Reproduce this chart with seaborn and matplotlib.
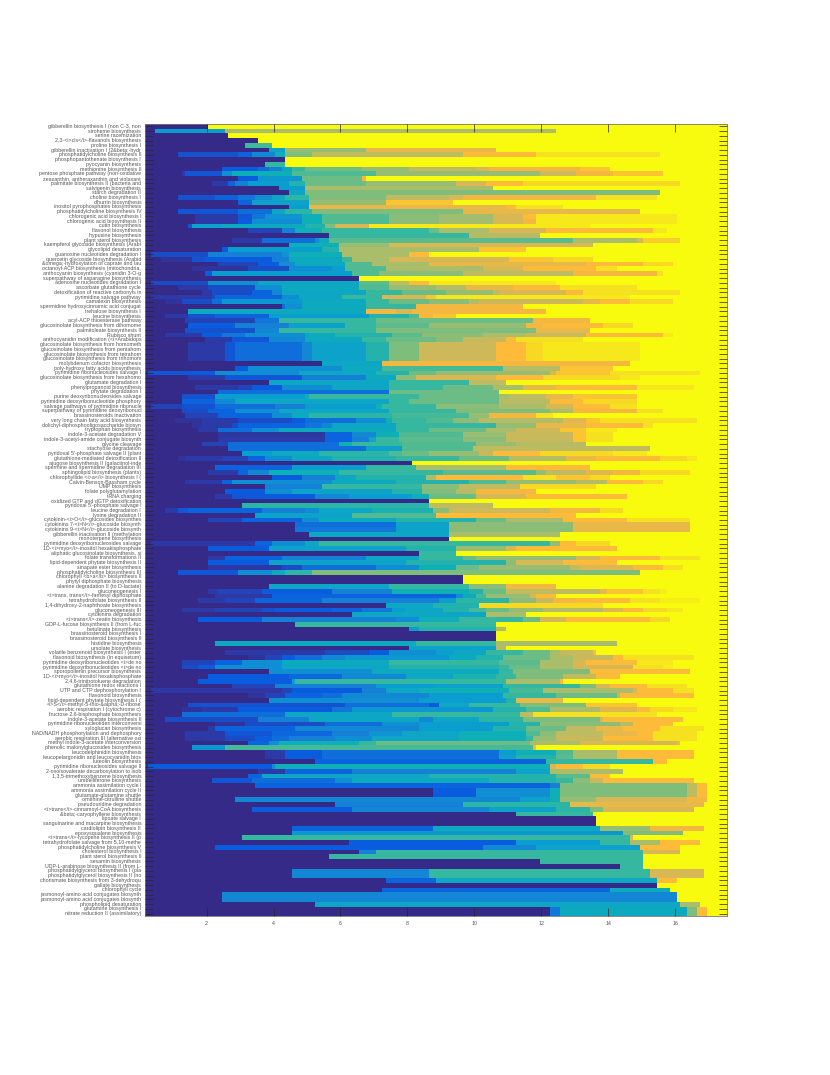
import numpy as np
import pandas as pd
import matplotlib.pyplot as plt
import seaborn as sns
from matplotlib.colors import LinearSegmentedColormap

# Pathway names, top to bottom, cut off at 40 characters as in the source
pathways = [
    "gibberellin biosynthesis I (non C-3, non", "siroheme biosynthesis", "serine racemization",
    "2,3-<i>cis</i>-flavanols biosynthesis", "proline biosynthesis I", "gibberellin inactivation I (2&beta;-hydr",
    "phosphatidylcholine biosynthesis II", "phosphopantothenate biosynthesis I", "pyocyanin biosynthesis",
    "methionine biosynthesis II", "pentose phosphate pathway (non-oxidative", "zeaxanthin, antheraxanthin and violaxant",
    "palmitate biosynthesis II (bacteria and", "salvigenin biosynthesis", "starch degradation II",
    "choline biosynthesis I", "dhurrin biosynthesis", "inositol pyrophosphates biosynthesis",
    "phosphatidylcholine biosynthesis IV", "chlorogenic acid biosynthesis I", "chlorogenic acid biosynthesis II",
    "cutin biosynthesis", "flavonol biosynthesis", "hypusine biosynthesis",
    "plant sterol biosynthesis", "kaempferol glycoside biosynthesis (Arabi", "glycolipid desaturation",
    "guanosine nucleotides degradation I", "quercetin glycoside biosynthesis (Arabid", "&omega;-hydroxylation of caprate and lau",
    "octanoyl-ACP biosynthesis (mitochondria,", "anthocyanin biosynthesis (cyanidin 3-O-g", "superpathway of asparagine biosynthesis",
    "adenosine nucleotides degradation I", "ascorbate glutathione cycle", "detoxification of reactive carbonyls in",
    "pyrimidine salvage pathway", "camalexin biosynthesis", "spermidine hydroxycinnamic acid conjugat",
    "trehalose biosynthesis I", "leucine biosynthesis", "acyl-ACP thioesterase pathway",
    "glucosinolate biosynthesis from dihomome", "palmitoleate biosynthesis II", "Rubisco shunt",
    "anthocyanidin modification (<i>Arabidops", "glucosinolate biosynthesis from homometh", "glucosinolate biosynthesis from pentahom",
    "glucosinolate biosynthesis from tetrahom", "glucosinolate biosynthesis from trihomom", "molybdenum cofactor biosynthesis",
    "poly-hydroxy fatty acids biosynthesis", "pyrimidine ribonucleosides salvage I", "glucosinolate biosynthesis from hexahomo",
    "glutamate degradation I", "phenylpropanoid biosynthesis", "phytate degradation I",
    "purine deoxyribonucleosides salvage", "pyrimidine deoxyribonucleotide phosphory", "salvage pathways of pyrimidine ribonucle",
    "superpathway of pyrimidine deoxyribonucl", "brassinosteroids inactivation", "very long chain fatty acid biosynthesis",
    "dolichyl-diphosphooligosaccharide biosyn", "tryptophan biosynthesis", "indole-3-acetate degradation V",
    "indole-3-acetyl-amide conjugate biosynth", "glycine cleavage", "stachyose degradation",
    "pyridoxal 5'-phosphate salvage II (plant", "glutathione-mediated detoxification II", "ajugose biosynthesis II (galactinol-inde",
    "spermine and spermidine degradation III", "sphingolipid biosynthesis (plants)", "chlorophyllide <i>a</i> biosynthesis I (",
    "Calvin-Benson-Bassham cycle", "UMP biosynthesis", "folate polyglutamylation",
    "tRNA charging", "oxidized GTP and dGTP detoxification", "pyridoxal 5'-phosphate salvage I",
    "leucine degradation I", "lysine degradation II", "cytokinin-<i>O</i>-glucosides biosynthes",
    "cytokinins 7-<i>N</i>-glucoside biosynth", "cytokinins 9-<i>N</i>-glucoside biosynth", "gibberellin inactivation II (methylation",
    "monoterpene biosynthesis", "pyrimidine deoxyribonucleosides salvage", "1D-<i>myo</i>-inositol hexakisphosphate",
    "aliphatic glucosinolate biosynthesis, si", "folate transformations II", "lipid-dependent phytate biosynthesis II",
    "sinapate ester biosynthesis", "phosphatidylcholine biosynthesis III", "chlorophyll <b>a</b> biosynthesis II",
    "phytyl diphosphate biosynthesis", "alanine degradation II (to D-lactate)", "gluconeogenesis I",
    "<i>trans, trans</i>-farnesyl diphosphate", "tetrahydrofolate biosynthesis II", "1,4-dihydroxy-2-naphthoate biosynthesis",
    "gluconeogenesis III", "cytokinins degradation", "<i>trans</i>-zeatin biosynthesis",
    "GDP-L-fucose biosynthesis II (from L-fuc", "betulinate biosynthesis", "brassinosteroid biosynthesis I",
    "brassinosteroid biosynthesis II", "histidine biosynthesis", "ursolate biosynthesis",
    "volatile benzenoid biosynthesis I (ester", "flavonoid biosynthesis (in equisetum)", "pyrimidine deoxyribonucleotides <i>de no",
    "pyrimidine deoxyribonucleotides <i>de no", "sporopollenin precursor biosynthesis", "1D-<i>myo</i>-inositol hexakisphosphate",
    "2,4,6-trinitrotoluene degradation", "glutathione redox reactions I", "UTP and CTP dephosphorylation I",
    "flavonoid biosynthesis", "lipid-dependent phytate biosynthesis I (", "<i>S</i>-methyl-5-thio-&alpha;-D-ribose",
    "aerobic respiration I (cytochrome c)", "fructose 2,6-bisphosphate biosynthesis", "indole-3-acetate biosynthesis II",
    "pyrimidine ribonucleotides interconversi", "xyloglucan biosynthesis", "NAD/NADH phosphorylation and dephosphory",
    "aerobic respiration III (alternative oxi", "methyl indole-3-acetate interconversion", "phenolic malonylglucosides biosynthesis",
    "leucodelphinidin biosynthesis", "leucopelargonidin and leucocyanidin bios", "luteolin biosynthesis",
    "pyrimidine ribonucleosides salvage II", "2-oxoisovalerate decarboxylation to isob", "1,3,5-trimethoxybenzene biosynthesis",
    "umbelliferone biosynthesis", "ammonia assimilation cycle I", "ammonia assimilation cycle II",
    "glutamate-glutamine shuttle", "ornithine-citrulline shuttle", "pseudouridine degradation",
    "<i>trans</i>-cinnamoyl-CoA biosynthesis", "&beta;-caryophyllene biosynthesis", "lipoate salvage I",
    "sanguinarine and macarpine biosynthesis", "cardiolipin biosynthesis II", "epoxysqualene biosynthesis",
    "<i>trans</i>-lycopene biosynthesis II (p", "tetrahydrofolate salvage from 5,10-methe", "phosphatidylcholine biosynthesis V",
    "cholesterol biosynthesis I", "plant sterol biosynthesis II", "sesamin biosynthesis",
    "UDP-L-arabinose biosynthesis II (from L-", "phosphatidylglycerol biosynthesis I (pla", "phosphatidylglycerol biosynthesis II (no",
    "chorismate biosynthesis from 3-dehydroqu", "gallate biosynthesis", "chlorophyll cycle",
    "jasmonoyl-amino acid conjugates biosynth", "jasmonoyl-amino acid conjugates biosynth", "phospholipid desaturation",
    "glutamine biosynthesis I", "nitrate reduction II (assimilatory)",
]

# x value where each row changes colour and the level it changes to (rows start at level 0)
row_steps = [
    [(2.1,1)],
    [(0.5,.35),(2.6,.75),(12.5,1)],
    [(2.7,1)],
    [(3.6,1)],
    [(3.2,.57),(4.0,1)],
    [(3.9,.38),(4.4,.72),(6.8,.88),(10.7,1)],
    [(1.2,.13),(3.0,.17),(3.4,.28),(4.1,.45),(4.4,.68),(5.2,.8),(9.7,.92),(11.9,.96),(15.6,1)],
    [(4.4,1)],
    [(3.8,.55),(4.4,1)],
    [(2.5,.15),(3.6,.2),(3.9,.25),(4.3,.4),(4.6,.55),(5.0,.66),(6.7,.72),(8.1,.8),(10.1,.85),(10.5,.9),(13.2,.93),(14.1,1)],
    [(1.3,.08),(1.4,.14),(2.5,.3),(2.8,.45),(4.6,.6),(7.1,.72),(12.0,.83),(13.1,.9),(14.2,.93),(15.7,1)],
    [(3.0,.15),(3.6,.33),(4.9,.65),(6.7,.9),(6.8,1)],
    [(2.2,.08),(2.7,.17),(2.9,.25),(3.3,.35),(4.5,.5),(5.0,.65),(6.8,.72),(9.5,.85),(10.4,.92),(11.5,.95),(16.2,1)],
    [(4.2,.35),(5.0,.75),(10.6,1)],
    [(4.5,.4),(5.0,.68),(15.6,1)],
    [(1.2,.13),(2.3,.17),(3.0,.22),(3.5,.3),(4.0,.4),(4.4,.53),(5.1,.68),(7.4,.8),(9.3,.85),(9.7,.9),(13.7,.96),(15.5,1)],
    [(3.0,.17),(3.4,.38),(5.1,.72),(7.4,.93),(9.4,1)],
    [(4.5,.35),(5.1,.88),(11.0,.92),(11.3,.96),(12.7,1)],
    [(1.2,.14),(3.0,.2),(4.0,.4),(4.4,.53),(5.2,.68),(9.7,.88),(15.0,1)],
    [(1.7,.08),(3.0,.14),(3.4,.22),(3.8,.32),(4.9,.45),(5.5,.6),(7.5,.7),(9.0,.74),(10.6,.85),(11.5,.92),(11.9,.97),(16.1,1)],
    [(1.7,.08),(3.0,.15),(3.4,.3),(4.9,.45),(5.5,.6),(7.5,.7),(9.0,.74),(10.6,.85),(11.5,.9),(11.9,.97),(16.1,1)],
    [(1.5,.14),(1.6,.38),(2.5,.42),(5.0,.5),(5.6,.68),(5.9,.85),(6.9,.97),(13.5,1)],
    [(3.3,.1),(4.3,.25),(4.7,.45),(5.5,.55),(8.7,.65),(9.0,.75),(10.5,.85),(12.2,.92),(15.4,.97),(15.8,1)],
    [(5.7,.55),(9.9,.78),(12.0,1)],
    [(2.8,.08),(3.7,.2),(5.3,.3),(5.4,.42),(5.7,.62),(13.0,.75),(14.9,.85),(15.1,.94),(16.2,1)],
    [(4.5,.45),(6.0,.72),(7.5,.85),(13.6,1)],
    [(2.5,.15),(2.7,.35),(5.5,.5),(6.0,.75),(10.2,.93),(11.6,1)],
    [(0.4,.12),(2.1,.25),(4.3,.32),(4.5,.45),(6.1,.75),(8.1,.92),(8.7,1)],
    [(0.7,.05),(1.6,.13),(2.0,.15),(4.0,.25),(4.5,.42),(6.1,.55),(6.4,.75),(7.5,.85),(11.1,.93),(12.4,.95),(13.6,1)],
    [(2.4,.1),(3.6,.15),(4.2,.3),(4.7,.42),(6.2,.6),(7.0,.75),(8.7,.88),(13.4,.92),(15.1,.95),(16.0,1)],
    [(1.6,.05),(3.3,.12),(4.5,.3),(5.8,.35),(6.2,.6),(7.4,.75),(10.3,.85),(11.5,.92),(13.7,.96),(14.3,1)],
    [(2.0,.15),(2.2,.35),(6.4,.6),(7.2,.7),(9.7,.8),(13.0,.9),(15.5,.96),(15.7,1)],
    [(6.6,1)],
    [(0.4,.12),(2.1,.3),(3.6,.4),(6.6,.62),(7.5,.8),(8.1,.92),(8.7,.97),(12.5,1)],
    [(1.2,.08),(2.1,.12),(3.5,.3),(4.3,.42),(6.6,.6),(7.5,.72),(8.9,.78),(9.8,.88),(11.2,.92),(12.6,.96),(14.9,1)],
    [(1.9,.08),(2.2,.12),(3.4,.17),(4.0,.28),(4.3,.4),(6.8,.55),(7.9,.65),(9.2,.72),(10.6,.8),(10.8,.85),(12.8,.92),(13.3,.96),(16.2,1)],
    [(0.4,.08),(2.2,.12),(2.3,.17),(4.3,.3),(4.8,.4),(6.1,.55),(7.3,.85),(8.6,.93),(8.9,.97),(14.7,1)],
    [(0.8,.05),(1.3,.12),(2.2,.2),(2.5,.33),(4.9,.42),(6.8,.55),(7.5,.65),(8.7,.7),(9.9,.78),(10.2,.83),(13.3,.88),(13.8,.92),(14.7,.95),(16.0,1)],
    [(4.3,.2),(4.4,.3),(4.9,.42),(6.8,.55),(8.3,.9),(11.5,1)],
    [(1.5,.42),(6.8,.9),(7.7,.85),(8.2,.9),(12.2,1)],
    [(0.8,.08),(1.5,.13),(2.3,.17),(3.9,.35),(6.9,.5),(8.1,.6),(8.4,.9),(8.8,.93),(9.5,1)],
    [(1.4,.1),(3.5,.22),(4.2,.55),(7.1,.65),(11.8,.9),(13.5,1)],
    [(1.5,.15),(2.9,.25),(4.5,.38),(6.2,.55),(7.1,.62),(8.7,.72),(11.6,.9),(12.1,.92),(13.9,.95),(14.8,1)],
    [(1.4,.13),(3.5,.28),(4.2,.55),(7.1,.68),(11.9,.88),(13.5,1)],
    [(0.8,.08),(1.9,.15),(2.5,.22),(3.2,.3),(5.0,.42),(5.9,.5),(7.6,.62),(8.5,.7),(10.3,.75),(11.6,.82),(13.4,.92),(15.7,.97),(16.0,1)],
    [(2.0,.08),(2.8,.14),(3.9,.28),(5.0,.42),(6.7,.55),(7.4,.65),(8.9,.7),(9.7,.82),(11.0,.92),(11.3,.96),(13.3,1)],
    [(1.5,.08),(2.6,.14),(2.9,.2),(4.9,.28),(5.2,.38),(6.8,.5),(7.5,.68),(8.4,.83),(10.7,.92),(11.6,.95),(12.1,.97),(15.0,1)],
    [(1.5,.08),(2.6,.14),(2.9,.2),(4.9,.28),(5.2,.38),(6.8,.5),(7.5,.68),(8.4,.83),(10.7,.92),(11.6,.95),(12.1,.97),(15.0,1)],
    [(1.5,.08),(2.6,.14),(2.9,.2),(4.9,.28),(5.2,.38),(6.8,.5),(7.5,.68),(8.4,.83),(10.7,.92),(11.6,.95),(12.1,.97),(15.0,1)],
    [(1.5,.08),(2.6,.14),(2.9,.2),(4.9,.28),(5.2,.38),(6.8,.5),(7.5,.68),(8.4,.83),(10.7,.92),(11.6,.95),(12.1,.97),(15.0,1)],
    [(5.5,.4),(7.3,.9),(14.7,1)],
    [(2.9,.15),(3.3,.3),(6.1,.42),(7.3,.58),(10.9,.78),(12.6,.93),(14.2,1)],
    [(0.3,.14),(1.6,.15),(2.3,.3),(4.8,.4),(7.1,.5),(8.1,.65),(8.9,.72),(12.3,.85),(12.5,.93),(14.1,.96),(16.8,1)],
    [(1.5,.08),(2.6,.14),(4.9,.25),(6.8,.42),(7.7,.7),(8.3,.85),(10.7,.92),(12.1,.95),(14.4,.97),(15.0,1)],
    [(3.9,.4),(7.5,.55),(9.9,.8),(11.0,1)],
    [(1.7,.08),(3.0,.1),(3.4,.15),(4.3,.3),(5.8,.4),(7.5,.55),(9.1,.65),(10.6,.75),(11.5,.88),(12.5,.92),(14.9,.97),(16.6,1)],
    [(2.4,.2),(7.5,.65),(10.8,1)],
    [(1.3,.13),(2.3,.35),(5.0,.45),(5.1,.55),(8.4,.65),(10.8,.75),(11.1,.8),(12.2,.88),(13.0,.93),(14.9,1)],
    [(1.3,.17),(2.3,.28),(2.9,.4),(7.5,.55),(8.1,.65),(10.8,.78),(12.3,.92),(13.3,.95),(14.9,1)],
    [(0.4,.1),(1.3,.13),(2.3,.2),(4.1,.25),(5.0,.35),(7.1,.45),(7.3,.55),(8.9,.7),(10.8,.75),(12.2,.85),(13.0,.92),(14.1,.96),(14.9,1)],
    [(1.3,.12),(2.1,.17),(2.9,.3),(4.2,.4),(7.5,.55),(9.5,.68),(12.3,.75),(13.0,.9),(14.9,.96),(15.7,1)],
    [(1.4,.1),(2.4,.17),(4.0,.3),(4.6,.42),(5.1,.52),(7.6,.58),(9.9,.72),(10.5,.9),(11.9,.96),(12.4,1)],
    [(1.1,.05),(1.9,.08),(3.0,.12),(4.6,.15),(5.0,.2),(6.5,.3),(7.4,.45),(7.6,.55),(8.6,.6),(9.4,.7),(10.2,.78),(12.7,.87),(13.4,.93),(13.8,.96),(16.7,1)],
    [(1.6,.05),(1.9,.08),(2.8,.12),(3.0,.17),(5.0,.22),(5.5,.28),(5.8,.4),(7.7,.55),(10.7,.72),(11.9,.88),(13.4,.92),(15.1,.96),(15.4,1)],
    [(1.8,.08),(2.4,.2),(3.4,.3),(4.2,.42),(7.7,.55),(8.7,.65),(10.4,.75),(11.3,.83),(12.6,.93),(13.4,.97),(14.3,1)],
    [(2.4,.06),(5.6,.17),(6.4,.28),(7.1,.45),(7.8,.6),(9.7,.72),(11.0,.82),(13.0,.93),(13.4,.96),(14.2,1)],
    [(2.4,.08),(5.6,.17),(6.4,.25),(6.9,.4),(7.1,.55),(7.8,.62),(9.7,.7),(11.0,.82),(13.0,.93),(13.4,.96),(14.2,1)],
    [(1.9,.1),(2.7,.2),(6.0,.45),(6.4,.55),(7.9,.6),(10.1,.72),(11.3,.78),(13.4,1)],
    [(2.7,.2),(6.8,.38),(7.9,.6),(10.0,.8),(15.3,1)],
    [(3.1,.35),(4.0,.42),(5.4,.52),(7.5,.6),(7.9,.65),(8.7,.72),(10.2,.82),(10.6,.92),(12.0,.95),(14.2,.97),(15.2,1)],
    [(1.2,.05),(1.4,.08),(2.5,.1),(3.3,.17),(3.8,.3),(4.6,.4),(5.8,.5),(7.7,.55),(9.6,.65),(11.1,.78),(12.8,.88),(13.7,.92),(15.6,.95),(16.4,.97),(16.7,1)],
    [(8.2,1)],
    [(2.3,.17),(4.6,.35),(6.8,.55),(8.3,.75),(11.0,.92),(13.5,1)],
    [(2.1,.08),(3.0,.17),(3.3,.28),(3.9,.45),(6.0,.55),(9.1,.62),(11.9,.72),(12.2,.8),(13.4,.87),(14.2,.9),(15.0,.95),(16.5,1)],
    [(4.0,.15),(4.9,.25),(5.9,.4),(6.5,.5),(8.6,.75),(8.9,.92),(11.5,.96),(12.5,.93),(13.5,.95),(14.1,1)],
    [(1.4,.08),(2.5,.17),(2.8,.3),(5.8,.42),(7.7,.5),(9.9,.6),(11.0,.72),(13.1,.78),(14.0,.92),(15.1,.95),(15.7,1)],
    [(3.8,.25),(5.5,.55),(8.5,.7),(9.6,.8),(11.4,.95),(13.7,1)],
    [(2.6,.15),(3.8,.3),(4.6,.38),(7.6,.5),(8.5,.68),(9.5,.78),(10.1,.9),(11.9,1)],
    [(2.3,.08),(2.8,.14),(3.8,.15),(5.3,.28),(6.3,.35),(8.2,.45),(8.7,.65),(10.1,.85),(11.6,.92),(14.6,1)],
    [(8.7,1)],
    [(3.1,.52),(8.7,.8),(10.6,1)],
    [(0.8,.08),(1.2,.14),(1.5,.17),(3.7,.25),(5.0,.3),(5.4,.4),(7.0,.48),(8.8,.7),(9.3,.83),(12.3,.9),(13.8,.95),(14.5,1)],
    [(3.5,.38),(6.4,.6),(8.9,.92),(13.1,1)],
    [(2.1,.1),(3.1,.17),(4.9,.3),(5.4,.42),(7.7,.5),(10.1,.65),(11.0,.75),(12.7,.92),(14.6,.96),(16.5,1)],
    [(4.7,.2),(7.7,.38),(9.3,.7),(13.0,.88),(16.5,1)],
    [(4.7,.22),(7.7,.38),(9.3,.7),(13.0,.88),(16.5,1)],
    [(5.1,.4),(9.3,.75),(12.6,1)],
    [(9.3,1)],
    [(0.4,.07),(3.5,.17),(4.0,.3),(5.0,.4),(5.4,.55),(12.3,.72),(12.6,.92),(13.1,.95),(14.1,1)],
    [(2.1,.15),(3.9,.38),(8.0,.5),(9.5,.72),(11.0,.85),(11.3,.92),(14.3,1)],
    [(8.4,.55),(9.5,1)],
    [(2.1,.08),(2.6,.17),(4.3,.25),(6.8,.4),(8.4,.55),(9.7,.65),(10.1,.72),(13.1,.85),(13.8,.92),(15.6,.96),(16.8,1)],
    [(2.1,.15),(3.9,.38),(8.0,.5),(11.0,.7),(11.3,.85),(12.7,.92),(14.3,1)],
    [(2.1,.07),(4.3,.12),(4.9,.2),(7.1,.3),(8.4,.45),(9.5,.65),(10.2,.72),(12.9,.8),(13.2,.86),(14.8,.92),(15.7,.96),(16.3,1)],
    [(1.2,.14),(3.0,.3),(4.0,.42),(4.4,.53),(5.2,.68),(15.0,1)],
    [(9.7,1)],
    [(9.7,1)],
    [(3.9,.4),(7.5,.55),(9.9,.7),(11.0,.9),(12.5,1)],
    [(2.1,.08),(2.4,.1),(3.7,.15),(4.1,.15),(5.8,.25),(7.6,.45),(9.9,.5),(10.3,.65),(11.0,.8),(13.8,.88),(14.0,.93),(15.1,.96),(15.6,.98),(15.8,1)],
    [(2.3,.08),(4.0,.17),(8.4,.17),(9.5,.3),(9.7,.42),(10.1,.58),(10.4,.72),(11.7,.85),(11.9,.92),(12.5,1)],
    [(1.8,.08),(2.6,.1),(3.5,.17),(5.5,.25),(8.4,.25),(9.0,.35),(9.5,.52),(11.1,.7),(11.9,.82),(12.4,.9),(13.1,.92),(14.7,.96),(15.6,.98),(16.8,1)],
    [(7.4,.4),(8.8,.5),(10.2,.95),(13.9,1)],
    [(1.3,.08),(2.3,.1),(3.7,.13),(4.1,.15),(5.8,.17),(6.7,.22),(7.6,.35),(8.0,.4),(9.1,.5),(9.9,.58),(10.4,.65),(11.1,.72),(12.1,.78),(13.9,.87),(14.5,.92),(15.1,.95),(15.8,.97),(16.3,1)],
    [(6.4,.4),(10.4,.75),(11.6,1)],
    [(1.8,.15),(3.7,.25),(7.7,.3),(8.4,.45),(9.6,.55),(11.5,.65),(12.0,.85),(12.8,.92),(15.3,.95),(15.9,1)],
    [(4.7,.55),(10.7,1)],
    [(8.1,.35),(8.4,.5),(10.7,.78),(11.0,1)],
    [(10.7,1)],
    [(10.7,1)],
    [(2.3,.42),(8.3,.55),(10.7,.75),(14.3,1)],
    [(8.1,.38),(10.7,.78),(11.0,1)],
    [(2.6,.08),(5.6,.12),(6.9,.15),(7.5,.3),(8.9,.37),(9.4,.4),(10.4,.55),(11.5,.65),(12.3,.75),(12.6,.82),(13.6,.92),(13.7,1)],
    [(3.3,.05),(3.8,.1),(4.3,.15),(4.7,.2),(5.5,.28),(6.2,.33),(9.3,.42),(10.1,.5),(10.9,.65),(12.3,.75),(13.0,.82),(14.2,.92),(14.5,.96),(16.6,1)],
    [(1.3,.1),(2.3,.17),(3.1,.3),(4.3,.42),(7.5,.55),(10.8,.62),(12.0,.75),(13.0,.85),(13.4,.92),(14.9,.97),(16.0,1)],
    [(1.3,.12),(1.8,.15),(2.3,.3),(4.3,.4),(7.5,.5),(10.8,.55),(11.1,.65),(12.0,.75),(13.0,.85),(14.8,.96),(15.7,.98),(16.0,1)],
    [(3.9,.3),(7.0,.42),(10.8,.55),(11.2,.68),(13.5,.92),(16.5,1)],
    [(2.1,.15),(4.5,.18),(6.1,.28),(8.0,.4),(9.4,.48),(10.7,.55),(11.3,.68),(12.7,.8),(13.7,.92),(14.4,1)],
    [(1.8,.15),(4.6,.35),(4.7,.55),(11.0,.75),(12.6,.92),(12.7,1)],
    [(2.8,.1),(4.1,.25),(7.1,.35),(8.9,.38),(10.9,.55),(13.2,.68),(13.7,.85),(14.1,.92),(15.2,.96),(16.4,1)],
    [(0.4,.07),(4.3,.1),(4.6,.15),(6.7,.25),(7.4,.4),(8.4,.45),(11.1,.58),(12.1,.75),(14.8,.85),(14.9,.92),(16.0,.96),(16.6,1)],
    [(3.3,.05),(3.8,.1),(4.4,.17),(5.5,.2),(6.1,.28),(8.7,.35),(10.9,.55),(12.5,.65),(14.3,.8),(14.4,.92),(16.6,1)],
    [(3.9,.3),(8.4,.35),(11.0,.5),(11.3,.88),(12.7,1)],
    [(1.5,.13),(6.2,.2),(8.7,.15),(9.0,.4),(9.9,.55),(11.4,.68),(13.4,.93),(14.9,1)],
    [(1.3,.05),(1.9,.08),(3.0,.15),(5.8,.22),(6.4,.33),(10.6,.5),(11.6,.6),(12.3,.75),(13.8,.87),(14.9,.92),(15.3,.95),(16.0,.97),(16.7,1)],
    [(1.3,.2),(4.4,.4),(7.6,.55),(11.4,.8),(11.8,.96),(15.5,1)],
    [(0.8,.12),(3.6,.25),(5.1,.4),(8.4,.28),(8.8,.4),(10.2,.52),(11.5,.68),(13.8,.85),(13.9,.92),(16.3,1)],
    [(2.3,.05),(3.2,.12),(5.6,.2),(7.3,.3),(8.4,.35),(11.1,.5),(12.0,.7),(14.4,.78),(14.8,.92),(16.0,1)],
    [(2.1,.08),(2.3,.17),(4.7,.28),(8.4,.35),(10.6,.5),(11.6,.65),(12.8,.8),(13.7,.88),(14.5,.92),(15.6,.96),(16.9,1)],
    [(1.4,.08),(2.6,.14),(4.0,.18),(5.8,.25),(6.9,.32),(7.9,.4),(9.6,.45),(11.6,.6),(12.0,.7),(12.5,.8),(13.9,.88),(14.9,.92),(15.4,.96),(16.7,1)],
    [(1.4,.07),(2.0,.08),(2.6,.12),(3.5,.16),(4.0,.2),(4.5,.25),(5.9,.3),(7.0,.4),(9.6,.45),(11.6,.55),(11.8,.72),(12.5,.82),(13.9,.92),(15.4,.96),(16.7,1)],
    [(3.3,.17),(3.9,.3),(4.2,.45),(6.6,.55),(7.1,.65),(11.7,.75),(13.2,.85),(16.1,.9),(16.2,1)],
    [(1.6,.33),(2.6,.58),(11.8,.9),(11.9,1)],
    [(3.8,.08),(4.4,.15),(5.5,.2),(10.8,.35),(11.3,.45),(12.5,.6),(13.0,.75),(14.3,.92),(16.6,1)],
    [(3.8,.08),(4.4,.15),(5.5,.2),(10.8,.38),(11.3,.5),(12.5,.62),(13.0,.75),(14.3,.92),(16.6,1)],
    [(5.3,.17),(12.2,.55),(15.4,.92),(15.8,1)],
    [(0.3,.15),(4.0,.3),(4.1,.45),(12.3,.85),(12.5,.92),(13.3,.95),(14.1,1)],
    [(3.6,.08),(4.4,.17),(6.4,.25),(11.3,.38),(12.3,.75),(14.5,1)],
    [(3.3,.17),(3.7,.4),(8.7,.5),(12.5,.62),(13.5,.92),(14.1,1)],
    [(2.2,.14),(3.4,.2),(5.9,.3),(6.4,.42),(10.5,.5),(12.5,.55),(13.0,.7),(13.5,.82),(13.9,.92),(16.6,1)],
    [(3.5,.17),(12.3,.25),(12.6,.68),(16.4,.8),(16.7,.92),(17.0,1)],
    [(8.8,.15),(10.1,.3),(12.3,.45),(12.6,.68),(16.4,.8),(16.7,.92),(17.0,1)],
    [(8.8,.15),(10.1,.3),(12.3,.45),(12.6,.68),(16.4,.8),(16.7,.92),(17.0,1)],
    [(2.9,.28),(11.4,.38),(12.3,.45),(12.6,.72),(13.7,.85),(16.4,.9),(17.0,1)],
    [(5.9,.25),(9.7,.52),(12.9,.88),(16.9,1)],
    [(3.4,.15),(6.4,.27),(10.5,.38),(12.5,.52),(13.5,.68),(13.9,.85),(16.6,1)],
    [(11.3,.55),(13.6,1)],
    [(13.7,1)],
    [(13.7,1)],
    [(4.6,.17),(8.8,.42),(13.8,.72),(15.3,.9),(16.9,1)],
    [(4.6,.33),(14.5,.68),(16.3,1)],
    [(3.1,.55),(14.7,.85),(14.8,1)],
    [(6.3,.15),(11.3,.35),(13.8,.55),(14.7,.75),(15.6,.92),(16.8,1)],
    [(2.3,.15),(10.3,.28),(11.9,.38),(15.0,.92),(16.2,1)],
    [(6.6,.25),(7.1,.55),(15.1,.85),(16.2,1)],
    [(5.7,.55),(15.1,1)],
    [(12.0,.55),(15.1,1)],
    [(14.4,.55),(15.1,1)],
    [(4.6,.27),(8.7,.55),(15.3,.85),(16.9,1)],
    [(4.6,.27),(8.7,.55),(15.3,.85),(16.9,1)],
    [(7.4,.17),(8.9,.4),(15.5,.92),(16.1,1)],
    [(15.5,1)],
    [(7.3,.17),(14.1,.42),(15.9,1)],
    [(2.5,.27),(16.1,1)],
    [(2.5,.27),(16.1,1)],
    [(5.3,.4),(16.2,.75),(16.8,1)],
    [(12.3,.22),(12.6,.42),(16.4,.68),(16.7,.92),(17.0,1)],
    [(12.3,.22),(12.6,.42),(16.4,.68),(16.7,.92),(17.0,1)],
]

# Cell centres along x, in steps of 0.1
x_cells = np.round(np.arange(0.2, 17.55, 0.1), 1)
x_tick_values = [2, 4, 6, 8, 10, 12, 14, 16]

# parula colour map
parula_stops = [0, .08, .15, .25, .35, .45, .55, .65, .75, .85, .92, .96, 1]
parula_colors = ['#352a87', '#2c3aa8', '#0a5ce0', '#1580d6', '#0a9dd0', '#0fafb8', '#35b7a0',
                 '#6bbd85', '#a8bd6c', '#d6b855', '#feb83a', '#f5e01f', '#f9fb0e']

def build_matrix():
    rows = []
    for steps in row_steps:
        row = np.zeros(len(x_cells))
        for x_start, level in steps:
            row[x_cells >= x_start - 0.01] = level
        rows.append(row)
    return pd.DataFrame(rows, index=pathways, columns=x_cells)

def main():
    sns.set_theme(style='white')
    plt.rcParams['font.family'] = ['Liberation Sans', 'DejaVu Sans']

    matrix = build_matrix()
    cmap = LinearSegmentedColormap.from_list('parula', list(zip(parula_stops, parula_colors)))

    fig = plt.figure(figsize=(8.3, 10.75), dpi=100)
    ax = fig.add_axes([144.7 / 830, 1 - 916 / 1075, (727 - 144.7) / 830, (916 - 124) / 1075])
    sns.heatmap(matrix, ax=ax, cmap=cmap, vmin=0, vmax=1, cbar=False,
                xticklabels=False, yticklabels=True)

    # the axis runs from 0.15 to 17.55, one cell per 0.1
    ax.set_xticks([(v - 0.15) * 10 for v in x_tick_values])
    ax.set_xticklabels([str(v) for v in x_tick_values], rotation=0)
    ax.set_axisbelow(False)
    ax.tick_params(axis='x', which='both', direction='in', top=True, bottom=True, length=6,
                   width=0.5, color='#262626', labelsize=3.8, labelcolor='#555555', pad=3.5)
    ax.tick_params(axis='y', which='both', direction='in', left=True, right=True, length=6,
                   width=0.5, color='#262626', labelsize=3.8, labelcolor='#555555', pad=2.5)
    plt.setp(ax.get_yticklabels(), rotation=0)
    for spine in ax.spines.values():
        spine.set_visible(True)
        spine.set_color('#777777')
        spine.set_linewidth(0.6)

    fig.savefig('out.png', dpi=100)
    plt.close(fig)
    print(matrix.shape)

if __name__ == "__main__":
    main()
